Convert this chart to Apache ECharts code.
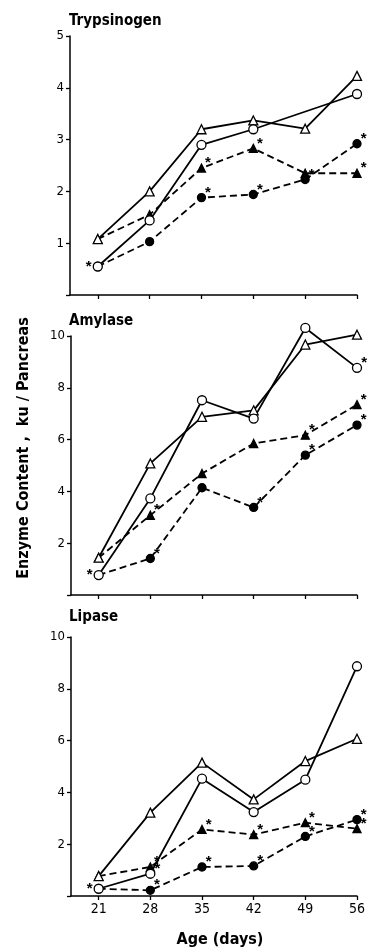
<!DOCTYPE html>
<html>
<head>
<meta charset="utf-8">
<script src="https://cdn.jsdelivr.net/npm/echarts@6/dist/echarts.min.js"></script>
<style>
  html, body { margin: 0; padding: 0; background: #fff; }
  #chart { width: 368px; height: 952px; }
</style>
</head>
<body>
<div id="chart"></div>
<script>
// 年龄（天）
var days = [21, 28, 35, 42, 49, 56];

// Trypsinogen
var trypOpenTri  = [1.08, 2.0, 3.2, 3.37, 3.21, 4.23];
var trypOpenCirc = [0.55, 1.44, 2.9, 3.2, null, 3.88];
var trypFillTri  = [1.08, 1.55, 2.45, 2.83, 2.35, 2.35];
var trypFillCirc = [0.55, 1.03, 1.88, 1.94, 2.23, 2.92];

// Amylase
var amyOpenTri  = [1.44, 5.08, 6.88, 7.13, 9.67, 10.05];
var amyOpenCirc = [0.77, 3.73, 7.52, 6.81, 10.31, 8.77];
var amyFillTri  = [1.44, 3.08, 4.69, 5.85, 6.17, 7.35];
var amyFillCirc = [0.77, 1.41, 4.14, 3.38, 5.4, 6.56];

// Lipase
var lipOpenTri  = [0.77, 3.22, 5.15, 3.73, 5.21, 6.07];
var lipOpenCirc = [0.28, 0.86, 4.53, 3.24, 4.49, 8.87];
var lipFillTri  = [0.77, 1.12, 2.57, 2.37, 2.83, 2.6];
var lipFillCirc = [0.28, 0.22, 1.12, 1.16, 2.3, 2.95];

// 显著性星号 (1 = *)
var trypStarOpenCirc = [1, 0, 0, 0, 0, 0];
var trypStarFillTri  = [0, 0, 1, 1, 0, 1];
var trypStarFillCirc = [0, 0, 1, 1, 1, 1];
var amyStarOpenCirc  = [1, 0, 0, 0, 0, 1];
var amyStarFillTri   = [0, 1, 0, 0, 1, 1];
var amyStarFillCirc  = [0, 1, 0, 1, 1, 1];
var lipStarOpenCirc  = [1, 1, 0, 0, 0, 0];
var lipStarFillTri   = [0, 1, 1, 1, 1, 1];
var lipStarFillCirc  = [0, 1, 1, 1, 1, 1];
var noStars = [0, 0, 0, 0, 0, 0];

var panelTitles = ['Trypsinogen', 'Amylase', 'Lipase'];
var yMax = [5, 10, 10];
var yStep = [1, 2, 2];

var FONT = "'DejaVu Sans Condensed', 'Liberation Sans', sans-serif";

var chart = echarts.init(document.getElementById('chart'));

var grids = [
    {left: 70, top: 36, width: 287, height: 259},
    {left: 71, top: 336, width: 286, height: 259},
    {left: 71, top: 637, width: 286, height: 259}
];

function pts(vals, stars) {
    return days.map(function (d, i) {
        var item = {value: [d, vals[i]]};
        if (stars[i]) {
            item.label = {
                show: true,
                formatter: '*',
                position: i === 0 ? 'left' : 'right',
                distance: 1,
                offset: i === 0 ? [0, 0] : [-2, -5],
                fontSize: 15,
                fontWeight: 'bold',
                color: '#000'
            };
        }
        return item;
    });
}

function line(idx, vals, stars, kind) {
    var open = kind.indexOf('open') === 0;
    var tri = kind.indexOf('Tri') > 0;
    return {
        type: 'line',
        xAxisIndex: idx,
        yAxisIndex: idx,
        data: pts(vals, stars),
        connectNulls: true,
        clip: false,
        symbol: tri ? 'triangle' : 'circle',
        symbolSize: open ? 9 : 8,
        showAllSymbol: true,
        z: open ? 3 : 2,
        lineStyle: {
            color: '#000',
            width: 1.8,
            type: open ? 'solid' : [7, 4]
        },
        itemStyle: {
            color: open ? '#fff' : '#000',
            borderColor: '#000',
            borderWidth: 1.3
        },
        emphasis: {disabled: true}
    };
}

var xAxes = grids.map(function (g, i) {
    return {
        type: 'value',
        gridIndex: i,
        min: 17.25,
        max: 56,
        axisLine: {lineStyle: {color: '#000', width: 1.5}},
        axisTick: {show: true, length: 4, customValues: days, lineStyle: {color: '#000', width: 1.3}},
        axisLabel: {
            show: i === 2,
            customValues: days,
            color: '#000',
            fontSize: 14,
            fontFamily: FONT,
            margin: 6
        },
        splitLine: {show: false}
    };
});

var yAxes = grids.map(function (g, i) {
    return {
        type: 'value',
        gridIndex: i,
        min: 0,
        max: yMax[i],
        interval: yStep[i],
        axisLine: {show: true, lineStyle: {color: '#000', width: 1.5}},
        axisTick: {show: true, length: 4, lineStyle: {color: '#000', width: 1.3}},
        axisLabel: {
            color: '#000',
            fontSize: 13,
            fontFamily: FONT,
            margin: 6,
            formatter: function (v) { return v === 0 ? '' : String(v); }
        },
        splitLine: {show: false}
    };
});

var option = {
    animation: false,
    backgroundColor: '#fff',
    title: panelTitles.map(function (t, i) {
        return {
            text: t,
            left: 69,
            top: [14, 314, 610][i],
            padding: 0,
            textStyle: {color: '#000', fontSize: 15, fontWeight: 'bold', fontFamily: FONT}
        };
    }),
    grid: grids,
    xAxis: xAxes,
    yAxis: yAxes,
    graphic: [
        {
            type: 'text',
            x: 24, y: 448,
            rotation: Math.PI / 2,
            style: {
                text: 'Enzyme Content ,  ku / Pancreas',
                fill: '#000',
                font: 'bold 16px ' + FONT,
                textAlign: 'center',
                textVerticalAlign: 'middle'
            }
        },
        {
            type: 'text',
            x: 220, y: 940,
            style: {
                text: 'Age (days)',
                fill: '#000',
                font: 'bold 16px ' + FONT,
                textAlign: 'center',
                textVerticalAlign: 'middle'
            }
        }
    ],
    series: [
        line(0, trypFillCirc, trypStarFillCirc, 'fillCirc'),
        line(0, trypFillTri, trypStarFillTri, 'fillTri'),
        line(0, trypOpenTri, noStars, 'openTri'),
        line(0, trypOpenCirc, trypStarOpenCirc, 'openCirc'),
        line(1, amyFillCirc, amyStarFillCirc, 'fillCirc'),
        line(1, amyFillTri, amyStarFillTri, 'fillTri'),
        line(1, amyOpenTri, noStars, 'openTri'),
        line(1, amyOpenCirc, amyStarOpenCirc, 'openCirc'),
        line(2, lipFillCirc, lipStarFillCirc, 'fillCirc'),
        line(2, lipFillTri, lipStarFillTri, 'fillTri'),
        line(2, lipOpenTri, noStars, 'openTri'),
        line(2, lipOpenCirc, lipStarOpenCirc, 'openCirc')
    ]
};

chart.setOption(option);
</script>
</body>
</html>
